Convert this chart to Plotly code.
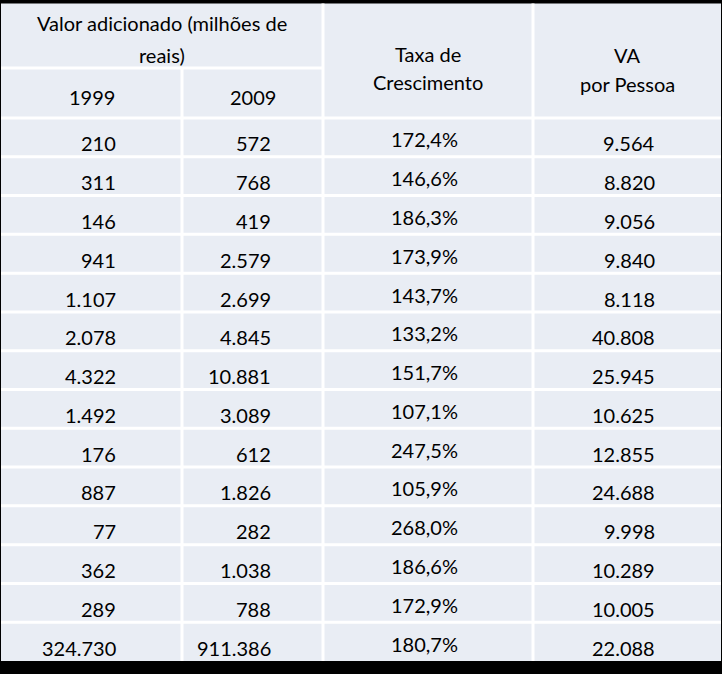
import plotly.graph_objects as go

# Valores da tabela
va_1999 = [210, 311, 146, 941, 1107, 2078, 4322, 1492, 176, 887, 77, 362, 289, 324730]
va_2009 = [572, 768, 419, 2579, 2699, 4845, 10881, 3089, 612, 1826, 282, 1038, 788, 911386]
taxa_crescimento = [172.4, 146.6, 186.3, 173.9, 143.7, 133.2, 151.7, 107.1, 247.5, 105.9,
                    268.0, 186.6, 172.9, 180.7]
va_por_pessoa = [9564, 8820, 9056, 9840, 8118, 40808, 25945, 10625, 12855, 24688,
                 9998, 10289, 10005, 22088]

titulo_grupo = ["Valor adicionado (milhões de", "reais)"]
anos = ["1999", "2009"]
titulo_taxa = ["Taxa de", "Crescimento"]
titulo_va = ["VA", "por Pessoa"]

W, H = 722, 674
COR_CELULA = '#E9EDF4'
COR_LINHA = 'white'
FONTE = dict(family='Lato, Carlito, sans-serif', size=20, color='black')

# geometria (px)
bordas_x = [1, 182, 323, 533, 721]
topo, fim_h1, fim_cab, base = 3.5, 68, 118, 661
n = len(va_1999)
altura = (base - fim_cab) / n


def fmt_int(v):
    return f"{v:,}".replace(",", ".")


def fmt_pct(v):
    return f"{v:.1f}%".replace(".", ",")


fig = go.Figure()

shapes = [dict(type='rect', x0=bordas_x[0], x1=bordas_x[-1], y0=topo, y1=base,
               fillcolor=COR_CELULA, line=dict(width=0), layer='below')]


def linha(x0, y0, x1, y1):
    shapes.append(dict(type='line', x0=x0, y0=y0, x1=x1, y1=y1,
                       line=dict(color=COR_LINHA, width=3)))


# linhas horizontais
linha(bordas_x[0], fim_h1, bordas_x[2], fim_h1)
for i in range(n):
    y = fim_cab + i * altura
    linha(bordas_x[0], y, bordas_x[-1], y)
# linhas verticais
linha(bordas_x[1], fim_h1, bordas_x[1], base)
linha(bordas_x[2], topo, bordas_x[2], base)
linha(bordas_x[3], topo, bordas_x[3], base)

annotations = []


def texto(t, x, y, xanchor='center'):
    annotations.append(dict(text=t, x=x, y=y, xref='x', yref='y', showarrow=False,
                            xanchor=xanchor, yanchor='middle', font=FONTE))


# cabeçalho
cx_grupo = (bordas_x[0] + bordas_x[2]) / 2
texto(titulo_grupo[0], cx_grupo, 23)
texto(titulo_grupo[1], cx_grupo, 55)
texto(anos[0], (bordas_x[0] + bordas_x[1]) / 2, 97)
texto(anos[1], (bordas_x[1] + bordas_x[2]) / 2, 97)
cx_taxa = (bordas_x[2] + bordas_x[3]) / 2
texto(titulo_taxa[0], cx_taxa, 54)
texto(titulo_taxa[1], cx_taxa, 82)
cx_va = (bordas_x[3] + bordas_x[4]) / 2
texto(titulo_va[0], cx_va, 55)
texto(titulo_va[1], cx_va, 84)

# corpo
for i in range(n):
    yc = fim_cab + (i + 0.5) * altura
    texto(fmt_int(va_1999[i]), 118, yc + 6, 'right')
    texto(fmt_int(va_2009[i]), 273, yc + 6, 'right')
    texto(fmt_pct(taxa_crescimento[i]), 424, yc + 2)
    texto(fmt_int(va_por_pessoa[i]), 657, yc + 6, 'right')

fig.update_layout(
    width=W, height=H,
    margin=dict(l=0, r=0, t=0, b=0),
    paper_bgcolor='black', plot_bgcolor='black',
    xaxis=dict(range=[0, W], visible=False, fixedrange=True),
    yaxis=dict(range=[H, 0], visible=False, fixedrange=True),
    shapes=shapes, annotations=annotations,
    showlegend=False,
)

# sem margem do <body>, para a figura ocupar a janela inteira
fig.write_html("out.html", config={'displayModeBar': False},
               post_script="document.body.style.margin='0';")
